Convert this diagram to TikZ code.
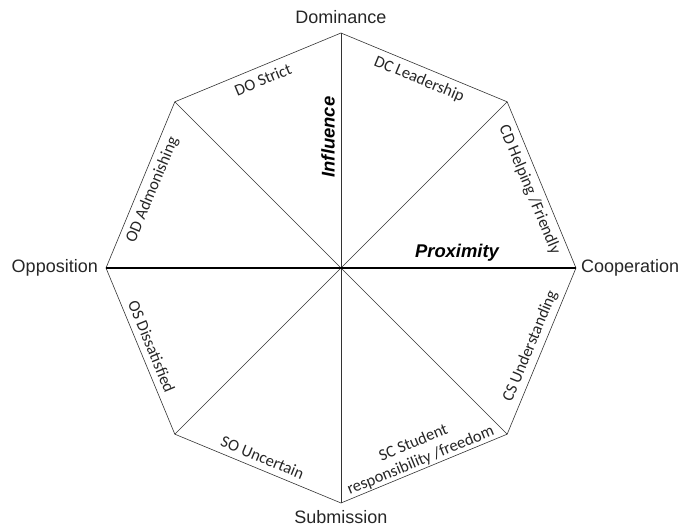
\documentclass[tikz,border=0pt]{standalone}
\usepackage{fontspec}
\setmainfont{Liberation Sans}
\newfontfamily\segfont{Carlito}
\usetikzlibrary{positioning}
\tikzset{
  pole/.style={font=\fontsize{18}{22}\selectfont, text=black!85, inner sep=2pt},
  axis/.style={font=\fontsize{18.4}{22}\selectfont\bfseries\itshape, inner sep=1pt},
  seg/.style={font=\segfont\fontsize{16.5}{18}\selectfont, text=black!85, inner sep=1pt, align=center},
  rim/.style={draw=black!80, line width=0.6pt}
}
\begin{document}
\begin{tikzpicture}[x=1pt, y=1pt]
\useasboundingbox (-341,-259) rectangle (340,268);
\foreach \i in {0,...,7} \coordinate (v\i) at (\i*45:235);
\coordinate (o) at (0,0);
\draw[rim] (v0)--(v1)--(v2)--(v3)--(v4)--(v5)--(v6)--(v7)--cycle;
\draw[rim] (v1)--(v5);
\draw[rim] (v3)--(v7);
\draw[rim] (v2)--(v6);
\draw[draw=black, line width=1.4pt] (v4)--(v0);
\node[pole, above=7pt of v2] (dom) {Dominance};
\node[pole, right=3pt of v0] (coop) {Cooperation};
\node[pole, below=5pt of v6] (sub) {Submission};
\node[pole, left=6pt of v4] (opp) {Opposition};
\node[axis, rotate=90] (infl) at (-13,131) {Influence};
\node[axis] (prox) at (116,15) {Proximity};
\foreach \a/\t [count=\k] in {22.5/{CD Helping /Friendly}, 67.5/{DC Leadership}, 112.5/{DO Strict}, 157.5/{OD Admonishing}}
  \node[seg, rotate=\a-90] (top\k) at (\a:204) {\t};
\foreach \a/\t [count=\k] in {202.5/{OS Dissatisfied}, 247.5/{SO Uncertain}, 337.5/{CS Understanding}}
  \node[seg, rotate=\a-270] (bot\k) at (\a:205) {\t};
\node[seg, rotate=22.5] (sc) at (292.5:199) {SC Student\\[1pt]responsibility /freedom};
\end{tikzpicture}
\end{document}
